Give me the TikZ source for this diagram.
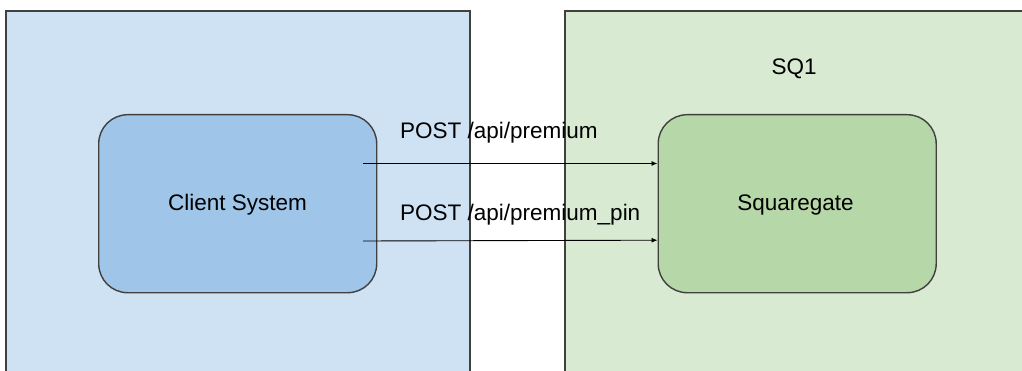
\documentclass[tikz,border=0pt]{standalone}
\usepackage{fontspec}
\setmainfont{Liberation Sans}
\usetikzlibrary{arrows.meta}
\definecolor{clientbg}{HTML}{CFE2F3}
\definecolor{sqbg}{HTML}{D9EAD3}
\definecolor{clientfill}{HTML}{9FC5E8}
\definecolor{sqfill}{HTML}{B6D7A8}
\begin{document}
\begin{tikzpicture}[x=1pt,y=-1pt,
    every node/.style={font=\fontsize{22.5}{27}\selectfont},
    zone/.style={draw=black!75,line width=1.4pt},
    system/.style={draw=black!75,line width=1.4pt,rounded corners=29pt,
        minimum width=278pt,minimum height=178pt,anchor=north west},
    call/.style={-{Latex[length=6pt,width=5pt]},line width=0.9pt}]
    \useasboundingbox (0,0) rectangle (1022,371);
    \clip (0,0) rectangle (1022,371);

    % The two zones
    \draw[zone,fill=clientbg] (6,11) rectangle (470,390);
    \draw[zone,fill=sqbg] (565,11) rectangle (1040,390);
    \node[anchor=base] (sq1) at (794,75) {SQ1};

    % Place the systems
    \node[system,fill=clientfill] (client) at (98,114) {};
    \node[system,fill=sqfill] (squaregate) at (657.5,114) {};
    \node[anchor=base] (clienttxt) at (237.5,211) {Client System};
    \node[anchor=base] (sqtxt) at (795.5,211) {Squaregate};

    % Draw the calls
    \coordinate (c1) at (363,163.5);
    \coordinate (c2) at (363,241);
    \draw[call] (c1) -- (c1 -| squaregate.west);
    \draw[call] (c2) -- ([yshift=0.8pt]c2 -| squaregate.west);
    \node[anchor=base west,inner sep=0pt] (l1) at (400,139) {POST /api/premium};
    \node[anchor=base west,inner sep=0pt] (l2) at (400,221) {POST /api/premium\_pin};

\end{tikzpicture}
\end{document}
